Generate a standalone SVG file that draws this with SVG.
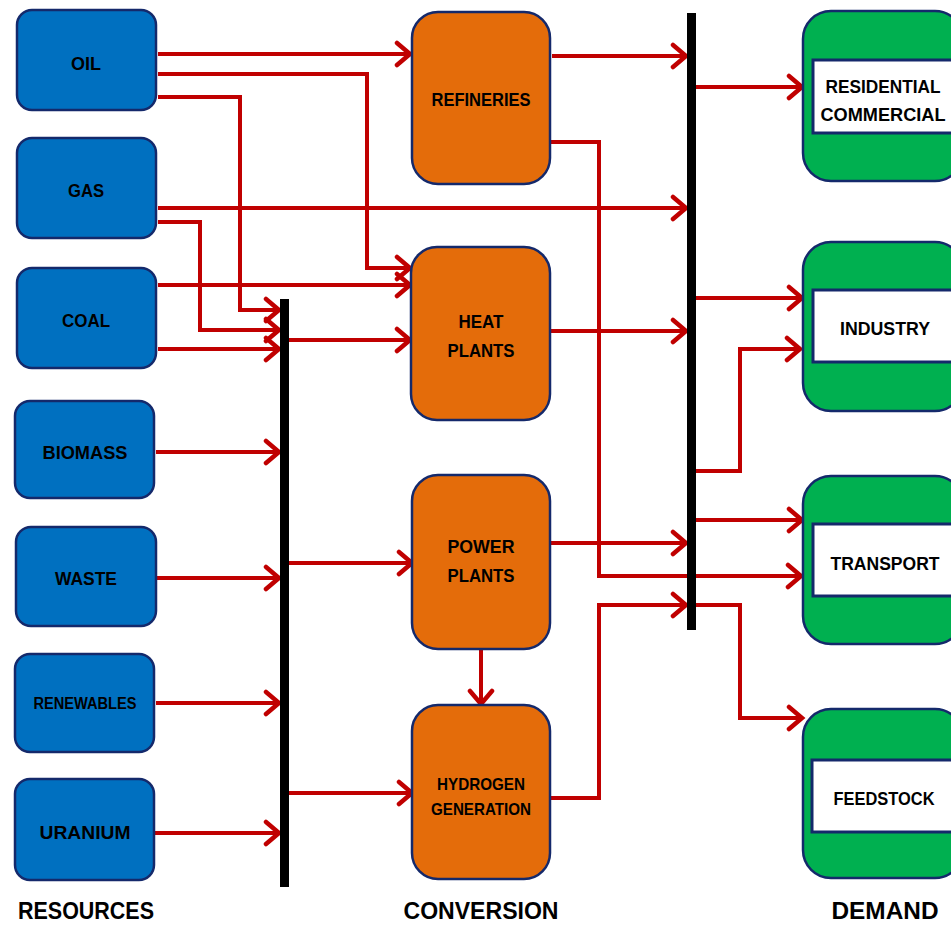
<svg xmlns="http://www.w3.org/2000/svg" width="951" height="925" viewBox="0 0 951 925">
<style>
.res{fill:#0070C0;stroke:#14296B;stroke-width:2.5}
.conv{fill:#E46C0A;stroke:#14296B;stroke-width:2.5}
.dem{fill:#00B050;stroke:#14296B;stroke-width:2.5}
.inner{fill:#FFFFFF;stroke:#14296B;stroke-width:3}
.bus{fill:#000000}
.lbl{font-family:"Liberation Sans",Arial,sans-serif;font-weight:bold;font-size:19px;fill:#000;text-anchor:middle}
.sm{font-size:16px}
.md{font-size:17px}
.hdr{font-family:"Liberation Sans",Arial,sans-serif;font-weight:bold;font-size:24px;fill:#000;text-anchor:middle}
.c{fill:none;stroke:#C00000;stroke-width:4;marker-end:url(#ah)}
</style>
<defs>
<marker id="ah" markerUnits="userSpaceOnUse" viewBox="-16 -14 20 28" refX="0" refY="0" markerWidth="20" markerHeight="28" orient="auto">
<path d="M-13,-11 L0,0 L-13,11" fill="none" stroke="#C00000" stroke-width="4.5" stroke-linecap="round" stroke-linejoin="miter"/>
</marker>
</defs>

<g id="connectors">
<path class="c" d="M158,54 H410"/>
<path class="c" d="M158,74 H367 V268 H410"/>
<path class="c" d="M158,97 H240 V310 H279"/>
<path class="c" d="M158,208 H686"/>
<path class="c" d="M158,222 H200 V330 H279"/>
<path class="c" d="M158,285 H410"/>
<path class="c" d="M158,349 H279"/>
<path class="c" d="M289,340 H410"/>
<path class="c" d="M156,452 H279"/>
<path class="c" d="M157,578 H279"/>
<path class="c" d="M289,563 H412"/>
<path class="c" d="M156,703 H279"/>
<path class="c" d="M289,793 H412"/>
<path class="c" d="M155,833 H279"/>
<path class="c" d="M552,56 H686"/>
<path class="c" d="M550,142 H599 V576 H801"/>
<path class="c" d="M550,331 H686"/>
<path class="c" d="M550,543 H686"/>
<path class="c" d="M481,650 V704"/>
<path class="c" d="M550,798 H599 V605 H686"/>
<path class="c" d="M696,87 H802"/>
<path class="c" d="M696,298 H802"/>
<path class="c" d="M696,471 H740 V349 H800"/>
<path class="c" d="M696,520 H802"/>
<path class="c" d="M696,605 H740 V718 H802"/>
</g>

<g id="bus-resources"><rect class="bus" x="280" y="299" width="9" height="588"/></g>
<g id="bus-demand"><rect class="bus" x="687" y="13" width="9" height="617"/></g>

<g id="oil"><rect class="res" x="17" y="10" width="139" height="100" rx="15"/><text class="lbl" x="86" y="70" textLength="30" lengthAdjust="spacingAndGlyphs">OIL</text></g>
<g id="gas"><rect class="res" x="17" y="138" width="139" height="100" rx="15"/><text class="lbl" x="86" y="197" textLength="36" lengthAdjust="spacingAndGlyphs">GAS</text></g>
<g id="coal"><rect class="res" x="17" y="268" width="139" height="100" rx="15"/><text class="lbl" x="86" y="327" textLength="48" lengthAdjust="spacingAndGlyphs">COAL</text></g>
<g id="biomass"><rect class="res" x="15" y="401" width="139" height="97" rx="15"/><text class="lbl" x="85" y="459" textLength="85" lengthAdjust="spacingAndGlyphs">BIOMASS</text></g>
<g id="waste"><rect class="res" x="16" y="527" width="140" height="99" rx="15"/><text class="lbl" x="86" y="585" textLength="62" lengthAdjust="spacingAndGlyphs">WASTE</text></g>
<g id="renewables"><rect class="res" x="15" y="654" width="139" height="98" rx="15"/><text class="lbl sm" x="85" y="709" textLength="103" lengthAdjust="spacingAndGlyphs">RENEWABLES</text></g>
<g id="uranium"><rect class="res" x="15" y="779" width="139" height="101" rx="15"/><text class="lbl" x="85" y="839" textLength="91" lengthAdjust="spacingAndGlyphs">URANIUM</text></g>

<g id="refineries"><rect class="conv" x="412" y="12" width="138" height="172" rx="26"/><text class="lbl" x="481" y="106" textLength="99" lengthAdjust="spacingAndGlyphs">REFINERIES</text></g>
<g id="heat-plants"><rect class="conv" x="411" y="247" width="139" height="173" rx="26"/><text class="lbl" x="481" y="328" textLength="45" lengthAdjust="spacingAndGlyphs">HEAT</text><text class="lbl" x="481" y="357" textLength="67" lengthAdjust="spacingAndGlyphs">PLANTS</text></g>
<g id="power-plants"><rect class="conv" x="412" y="475" width="138" height="174" rx="26"/><text class="lbl" x="481" y="553" textLength="67" lengthAdjust="spacingAndGlyphs">POWER</text><text class="lbl" x="481" y="582" textLength="67" lengthAdjust="spacingAndGlyphs">PLANTS</text></g>
<g id="hydrogen"><rect class="conv" x="412" y="705" width="138" height="174" rx="26"/><text class="lbl md" x="481" y="790" textLength="88" lengthAdjust="spacingAndGlyphs">HYDROGEN</text><text class="lbl md" x="481" y="815" textLength="100" lengthAdjust="spacingAndGlyphs">GENERATION</text></g>

<g id="residential"><rect class="dem" x="803" y="11" width="160" height="170" rx="28"/><rect class="inner" x="813" y="60" width="145" height="73"/><text class="lbl" x="883" y="93" textLength="115" lengthAdjust="spacingAndGlyphs">RESIDENTIAL</text><text class="lbl" x="883" y="121" textLength="125" lengthAdjust="spacingAndGlyphs">COMMERCIAL</text></g>
<g id="industry"><rect class="dem" x="803" y="242" width="160" height="169" rx="28"/><rect class="inner" x="813" y="290" width="145" height="72"/><text class="lbl" x="885" y="335" textLength="90" lengthAdjust="spacingAndGlyphs">INDUSTRY</text></g>
<g id="transport"><rect class="dem" x="803" y="476" width="160" height="168" rx="28"/><rect class="inner" x="813" y="524" width="145" height="72"/><text class="lbl" x="885" y="570" textLength="109" lengthAdjust="spacingAndGlyphs">TRANSPORT</text></g>
<g id="feedstock"><rect class="dem" x="803" y="709" width="160" height="169" rx="28"/><rect class="inner" x="812" y="760" width="146" height="72"/><text class="lbl" x="884" y="805" textLength="101" lengthAdjust="spacingAndGlyphs">FEEDSTOCK</text></g>

<g id="headers">
<text class="hdr" x="86" y="919" textLength="136" lengthAdjust="spacingAndGlyphs">RESOURCES</text>
<text class="hdr" x="481" y="919" textLength="155" lengthAdjust="spacingAndGlyphs">CONVERSION</text>
<text class="hdr" x="885" y="919" textLength="107" lengthAdjust="spacingAndGlyphs">DEMAND</text>
</g>
</svg>
